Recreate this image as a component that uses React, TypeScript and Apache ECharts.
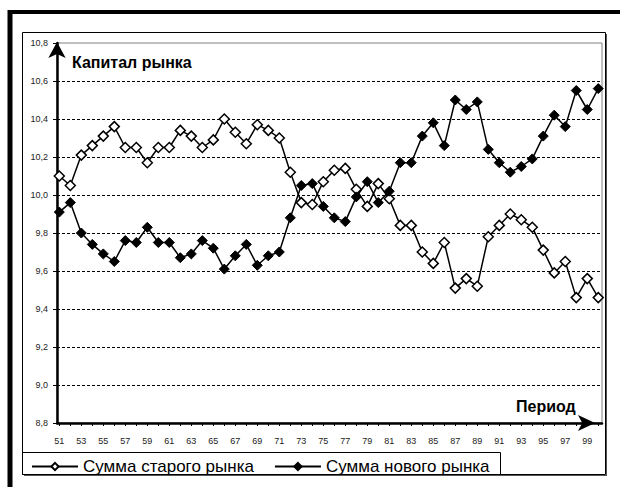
import React, { useEffect, useRef } from "react";
import * as echarts from "echarts";

const periods = [
  51, 52, 53, 54, 55, 56, 57, 58, 59, 60,
  61, 62, 63, 64, 65, 66, 67, 68, 69, 70,
  71, 72, 73, 74, 75, 76, 77, 78, 79, 80,
  81, 82, 83, 84, 85, 86, 87, 88, 89, 90,
  91, 92, 93, 94, 95, 96, 97, 98, 99, 100,
];

const oldMarket = [
  10.10, 10.05, 10.21, 10.26, 10.31, 10.36, 10.25, 10.25, 10.17, 10.25,
  10.25, 10.34, 10.31, 10.25, 10.29, 10.40, 10.33, 10.27, 10.37, 10.34,
  10.30, 10.12, 9.96, 9.95, 10.07, 10.13, 10.14, 10.03, 9.94, 10.06,
  9.98, 9.84, 9.84, 9.70, 9.64, 9.75, 9.51, 9.56, 9.52, 9.78,
  9.84, 9.90, 9.87, 9.83, 9.71, 9.59, 9.65, 9.46, 9.56, 9.46,
];

const newMarket = [
  9.91, 9.96, 9.80, 9.74, 9.69, 9.65, 9.76, 9.75, 9.83, 9.75,
  9.75, 9.67, 9.69, 9.76, 9.72, 9.61, 9.68, 9.74, 9.63, 9.68,
  9.70, 9.88, 10.05, 10.06, 9.94, 9.88, 9.86, 9.99, 10.07, 9.96,
  10.02, 10.17, 10.17, 10.31, 10.38, 10.26, 10.50, 10.45, 10.49, 10.24,
  10.17, 10.12, 10.15, 10.19, 10.31, 10.42, 10.36, 10.55, 10.45, 10.56,
];

const xLabelValues = [51, 53, 55, 57, 59, 61, 63, 65, 67, 69, 71, 73, 75, 77, 79, 81, 83, 85, 87, 89, 91, 93, 95, 97, 99];

const seriesNames = ["Сумма старого рынка", "Сумма нового рынка"];
const yTitle = "Капитал рынка";
const xTitle = "Период";

const FONT = "'Liberation Sans', Arial, sans-serif";

export default function App() {
  const ref = useRef<HTMLDivElement>(null);

  useEffect(() => {
    if (!ref.current) return;
    const chart = echarts.init(ref.current, undefined, { renderer: "svg" });

    const oldData = periods.map((p, i) => [p, oldMarket[i]]);
    const newData = periods.map((p, i) => [p, newMarket[i]]);

    chart.setOption({
      animation: false,
      backgroundColor: "#fff",
      textStyle: { fontFamily: FONT },
      grid: {
        left: 57,
        right: 18,
        top: 43,
        bottom: 64,
        show: true,
        borderColor: "#808080",
        borderWidth: 1,
        backgroundColor: "transparent",
      },
      xAxis: {
        type: "value",
        min: 50.79,
        max: 100.34,
        axisLine: {
          show: true,
          lineStyle: { color: "#000", width: 2.5 },
          symbol: ["none", "arrow"],
          symbolSize: [12, 17],
          symbolOffset: [0, -7],
        },
        axisTick: {
          show: true,
          customValues: periods,
          length: 3,
          inside: false,
          lineStyle: { color: "#000", width: 1 },
        },
        axisLabel: {
          customValues: xLabelValues,
          fontSize: 9,
          color: "#222",
          margin: 13,
          fontFamily: FONT,
        },
        splitLine: { show: false },
      },
      yAxis: {
        type: "value",
        min: 8.8,
        max: 10.8,
        interval: 0.2,
        axisLine: {
          show: true,
          lineStyle: { color: "#000", width: 2.5 },
          symbol: ["none", "arrow"],
          symbolSize: [13, 16],
          symbolOffset: [0, 1],
        },
        axisTick: {
          show: true,
          length: 4,
          lineStyle: { color: "#000", width: 1 },
        },
        axisLabel: {
          fontSize: 9,
          color: "#222",
          margin: 9,
          fontFamily: FONT,
          formatter: (v: number) => v.toFixed(1).replace(".", ","),
        },
        splitLine: {
          show: true,
          showMinLine: false,
          showMaxLine: false,
          lineStyle: { color: "#000", type: [3, 2], width: 1 },
        },
      },
      legend: {
        left: 31,
        top: 458,
        padding: 0,
        itemWidth: 46,
        itemHeight: 9,
        itemGap: 20,
        textStyle: { fontSize: 17, color: "#000", fontFamily: FONT },
        data: seriesNames,
      },
      series: [
        {
          name: seriesNames[0],
          type: "line",
          data: oldData,
          symbol: "diamond",
          symbolSize: 10,
          lineStyle: { color: "#000", width: 1.5 },
          itemStyle: { color: "#fff", borderColor: "#000", borderWidth: 1.5 },
          z: 2,
        },
        {
          name: seriesNames[1],
          type: "line",
          data: newData,
          symbol: "diamond",
          symbolSize: 10,
          lineStyle: { color: "#000", width: 1.5 },
          itemStyle: { color: "#000", borderColor: "#000", borderWidth: 1 },
          z: 3,
        },
      ],
      graphic: [
        { type: "line", shape: { x1: 8, y1: 12, x2: 620, y2: 12 }, style: { stroke: "#000", lineWidth: 4 }, z: 10 },
        { type: "line", shape: { x1: 10, y1: 10, x2: 10, y2: 487 }, style: { stroke: "#000", lineWidth: 5 }, z: 10 },
        { type: "rect", shape: { x: 22.5, y: 32.5, width: 583, height: 442 }, style: { fill: "none", stroke: "#000", lineWidth: 1 }, z: 10 },
        { type: "line", shape: { x1: 606.5, y1: 34, x2: 606.5, y2: 476 }, style: { stroke: "#555", lineWidth: 1 }, z: 10 },
        { type: "line", shape: { x1: 24, y1: 475.5, x2: 607, y2: 475.5 }, style: { stroke: "#555", lineWidth: 1 }, z: 10 },
        { type: "rect", shape: { x: 22.5, y: 452.5, width: 478, height: 22 }, style: { fill: "none", stroke: "#000", lineWidth: 1 }, z: 10 },
        { type: "rect", shape: { x: 14, y: 477, width: 606, height: 10 }, style: { fill: "#fff" }, z: 9 },
        {
          type: "text",
          x: 72,
          y: 62,
          style: { text: yTitle, font: `bold 16px ${FONT}`, fill: "#000", verticalAlign: "middle", align: "left" },
          z: 10,
        },
        {
          type: "text",
          x: 516,
          y: 406,
          style: { text: xTitle, font: `bold 16px ${FONT}`, fill: "#000", verticalAlign: "middle", align: "left" },
          z: 10,
        },
      ],
    });

    return () => chart.dispose();
  }, []);

  return (
    <div
      ref={ref}
      style={{ position: "absolute", left: 0, top: 0, width: 620, height: 487, background: "#fff" }}
    />
  );
}
